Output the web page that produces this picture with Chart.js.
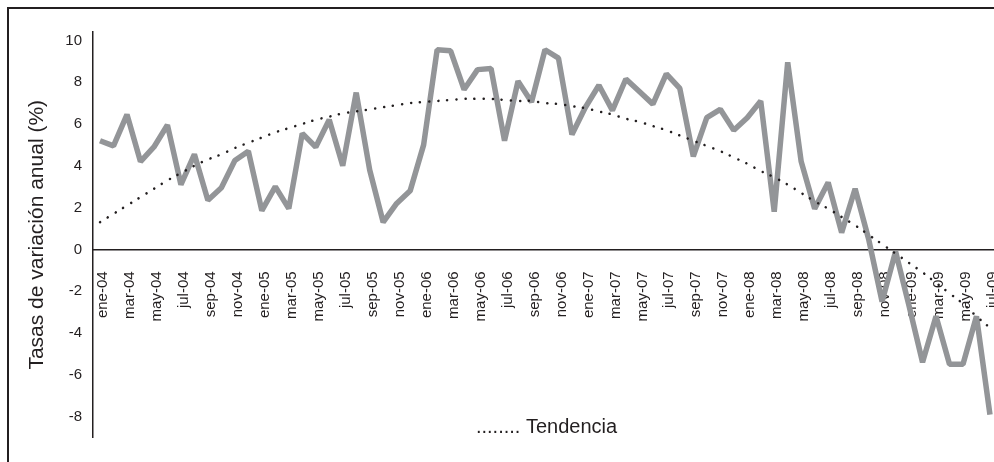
<!DOCTYPE html>
<html>
<head>
<meta charset="utf-8">
<script src="https://cdn.jsdelivr.net/npm/chart.js@4"></script>
<style>
  html, body { margin: 0; padding: 0; background: #fff; overflow: hidden; }
  .frame-top { position: absolute; left: 7px; top: 7px; width: 987px; height: 2px; background: #231f20; }
  .frame-left { position: absolute; left: 7px; top: 7px; width: 2px; height: 455px; background: #231f20; }
  #chart { position: absolute; left: 0; top: 0; }
</style>
</head>
<body>
<div class="frame-top"></div>
<div class="frame-left"></div>
<canvas id="chart" width="994" height="462"></canvas>
<script>
// meses ene-04 .. jul-09
const months = [
  "ene-04","feb-04","mar-04","abr-04","may-04","jun-04","jul-04","ago-04","sep-04","oct-04","nov-04","dic-04",
  "ene-05","feb-05","mar-05","abr-05","may-05","jun-05","jul-05","ago-05","sep-05","oct-05","nov-05","dic-05",
  "ene-06","feb-06","mar-06","abr-06","may-06","jun-06","jul-06","ago-06","sep-06","oct-06","nov-06","dic-06",
  "ene-07","feb-07","mar-07","abr-07","may-07","jun-07","jul-07","ago-07","sep-07","oct-07","nov-07","dic-07",
  "ene-08","feb-08","mar-08","abr-08","may-08","jun-08","jul-08","ago-08","sep-08","oct-08","nov-08","dic-08",
  "ene-09","feb-09","mar-09","abr-09","may-09","jun-09","jul-09"
];

// tasa de variacion anual (%)
const tasa = [
  5.2, 4.95, 6.45, 4.2, 4.9, 5.95, 3.1, 4.55, 2.35, 2.95, 4.25, 4.7,
  1.85, 3.0, 1.95, 5.55, 4.9, 6.2, 4.0, 7.5, 3.8, 1.3, 2.2, 2.8,
  5.0, 9.55, 9.5, 7.65, 8.6, 8.65, 5.2, 8.05, 7.05, 9.55, 9.15, 5.5,
  6.8, 7.85, 6.65, 8.15, 7.55, 6.95, 8.4, 7.7, 4.45, 6.3, 6.7, 5.7,
  6.3, 7.1, 1.8, 8.95, 4.2, 1.95, 3.2, 0.8, 2.9, 0.5, -2.5, -0.1,
  -2.7, -5.4, -3.2, -5.5, -5.5, -3.2, -7.9
];

// linea de tendencia
const tendencia = [
  1.3, 1.7, 2.1, 2.5, 2.9, 3.3, 3.65, 4.0, 4.3, 4.55, 4.85, 5.1,
  5.35, 5.6, 5.8, 6.0, 6.2, 6.35, 6.5, 6.6, 6.7, 6.8, 6.9, 7.0,
  7.05, 7.1, 7.15, 7.2, 7.2, 7.2, 7.15, 7.1, 7.1, 7.0, 6.95, 6.85,
  6.75, 6.6, 6.45, 6.25, 6.1, 5.9, 5.7, 5.45, 5.2, 4.95, 4.7, 4.4,
  4.1, 3.75, 3.45, 3.1, 2.7, 2.3, 1.95, 1.55, 1.15, 0.7, 0.25, -0.2,
  -0.65, -1.1, -1.6, -2.1, -2.6, -3.2, -3.75
];

const yTicks = [-8, -6, -4, -2, 0, 2, 4, 6, 8, 10];

const textColor = "#231f20";
const font = "'Liberation Sans', Arial, sans-serif";

// un mes = una posicion en el eje x
const toPoints = (arr) => arr.map((v, i) => ({ x: i, y: v }));

// leyenda "........ Tendencia"
const legendText = {
  id: "legendText",
  afterDraw(chart) {
    const ctx = chart.ctx;
    const area = chart.chartArea;
    ctx.save();
    ctx.font = "20px " + font;
    ctx.fillStyle = textColor;
    ctx.textAlign = "center";
    ctx.textBaseline = "middle";
    ctx.fillText("........ Tendencia", (area.left + area.right) / 2 + 3, 427);
    ctx.restore();
  },
};

const data = {
  datasets: [
    {
      label: "Tasa",
      data: toPoints(tasa),
      borderColor: "#939598",
      borderWidth: 5.5,
      borderJoinStyle: "bevel",
      pointRadius: 0,
      tension: 0,
      order: 2,
    },
    {
      label: "Tendencia",
      data: toPoints(tendencia),
      borderColor: "#231f20",
      borderWidth: 2.5,
      borderDash: [0.1, 9],
      borderCapStyle: "round",
      pointRadius: 0,
      tension: 0.4,
      order: 1,
    },
  ],
};

const config = {
  type: "line",
  data: data,
  plugins: [legendText],
  options: {
    responsive: false,
    devicePixelRatio: 1,
    animation: false,
    layout: { padding: { top: 32, bottom: 24.5, left: 0, right: 0 } },
    plugins: {
      legend: { display: false },
      tooltip: { enabled: false },
    },
    scales: {
      x: {
        type: "linear",
        min: -0.52,
        max: 66.3,
        position: { y: 0 },
        grid: { display: false, drawTicks: false },
        border: { display: true, color: textColor, width: 1.5 },
        afterBuildTicks: (scale) => {
          scale.ticks = months
            .map((m, i) => i)
            .filter((i) => i % 2 === 0)
            .map((i) => ({ value: i }));
        },
        afterFit: (scale) => {
          scale.paddingLeft = 0;
          scale.paddingRight = 0;
        },
        ticks: {
          autoSkip: false,
          minRotation: 90,
          maxRotation: 90,
          padding: 22,
          labelOffset: 3,
          color: textColor,
          font: { family: font, size: 15 },
          callback: (value) => months[value],
        },
      },
      y: {
        min: -9,
        max: 10.4,
        grid: { display: false, drawTicks: false },
        border: { display: true, color: textColor, width: 1.5 },
        afterBuildTicks: (scale) => {
          scale.ticks = yTicks.map((v) => ({ value: v }));
        },
        afterFit: (scale) => {
          scale.width = 93;
        },
        ticks: {
          padding: 11,
          color: textColor,
          font: { family: font, size: 15 },
        },
        title: {
          display: true,
          text: "Tasas de variación anual (%)",
          color: textColor,
          font: { family: font, size: 21 },
          padding: { top: 25, bottom: 0 },
        },
      },
    },
  },
};

const myChart = new Chart(document.getElementById("chart"), config);
</script>
</body>
</html>
